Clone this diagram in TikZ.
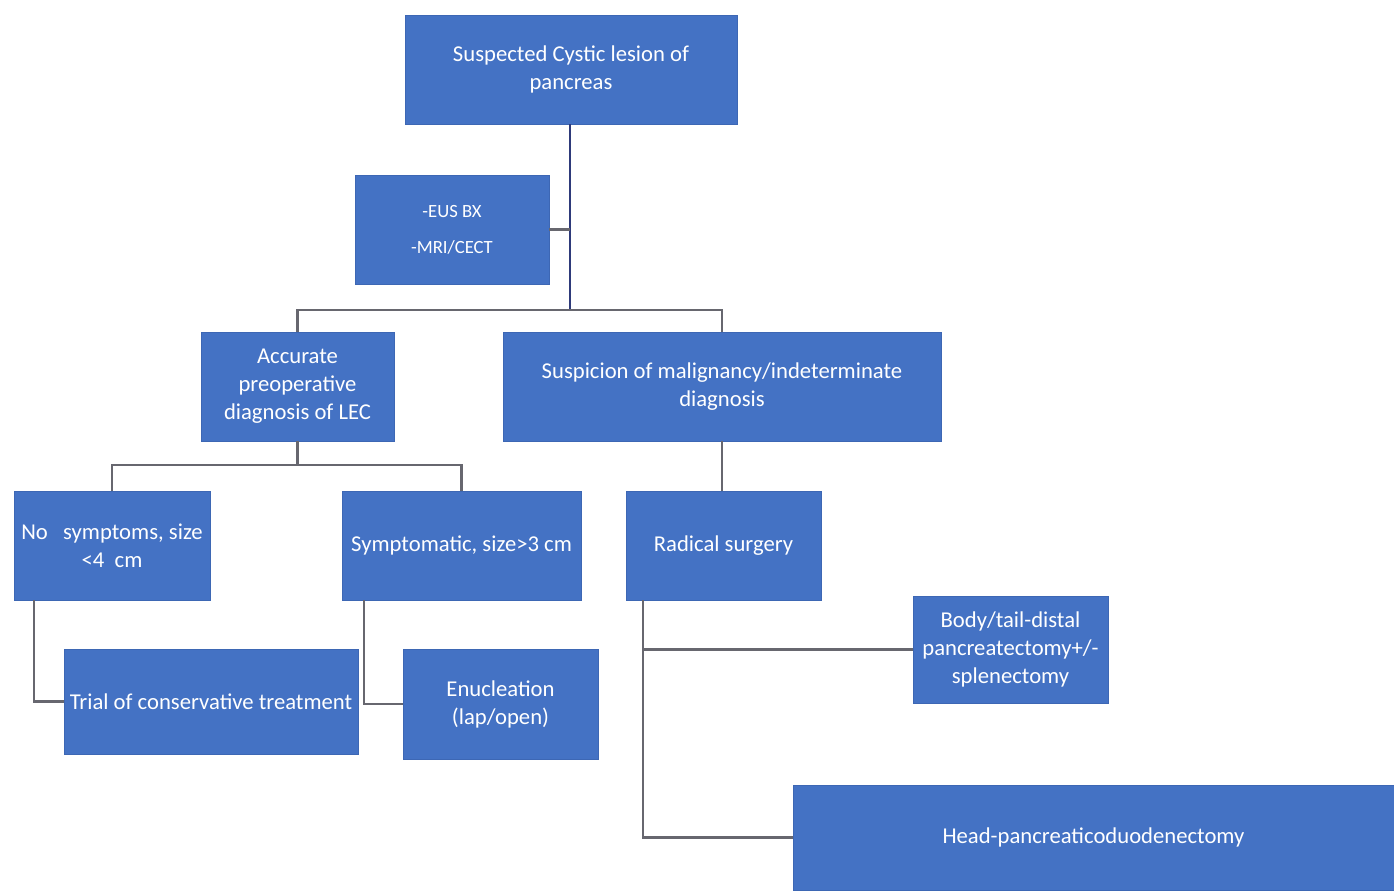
\documentclass[tikz,border=0pt]{standalone}
\usepackage{fontspec}
\setmainfont{Carlito}
\definecolor{boxblue}{HTML}{4472C4}
\definecolor{boxedge}{HTML}{3D67B4}
\definecolor{trunkline}{HTML}{2E3A7A}
\definecolor{linkline}{HTML}{67676F}
\begin{document}
\begin{tikzpicture}[x=0.75pt,y=-0.75pt,
  box/.style={fill=boxblue, draw=boxedge, line width=0.6pt, text=white,
    align=center, inner sep=0pt, minimum height=81.75pt,
    font=\fontsize{17}{21}\selectfont},
  link/.style={draw=linkline, line width=1.6pt},
  trunk/.style={draw=trunkline, line width=1.8pt}]
\useasboundingbox (0,0) rectangle (1394,890);

% decision boxes
\node[box, minimum width=249pt] (top) at (571,69.5) {Suspected Cystic lesion of\\pancreas};
\node[box, minimum width=145.5pt, font=\fontsize{14}{27}\selectfont] (eus) at (452,229.5) {-EUS BX\\-MRI/CECT};
\node[box, minimum width=144.75pt] (acc) at (297.5,386.5) {Accurate\\preoperative\\diagnosis of LEC};
\node[box, minimum width=328.5pt] (sus) at (722,386.5) {Suspicion of malignancy/indeterminate\\diagnosis};
\node[box, minimum width=147pt] (nosym) at (112,545.5) {No\ \ \ symptoms, size\\<4\ \ cm};
\node[box, minimum width=179.25pt] (symp) at (461.5,545.5) {Symptomatic, size>3 cm};
\node[box, minimum width=146.25pt] (rad) at (723.5,545.5) {Radical surgery};
\node[box, minimum width=220.5pt, minimum height=78.75pt] (trial) at (211,701.5) {Trial of conservative treatment};
\node[box, minimum width=146.25pt, minimum height=82.5pt] (enuc) at (500.5,704) {Enucleation\\(lap/open)};
\node[box, minimum width=146.25pt, minimum height=80.25pt] (body) at (1010.5,649.5) {Body/tail-distal\\pancreatectomy+/-\\splenectomy};
\node[box, minimum width=450.75pt, minimum height=78.75pt] (head) at (1093.5,837.5) {Head-pancreaticoduodenectomy};

% junction points
\coordinate (split1) at (570,310);
\coordinate (split2) at (297.5,465);

% connectors
\draw[trunk] (top.south -| split1) -- (split1);
\draw[link] (eus.east) -- (eus.east -| split1);
\draw[link] (acc.north) -- (acc.north |- split1) -- (sus.north |- split1) -- (sus.north);
\draw[link] (acc.south) -- (split2);
\draw[link] (nosym.north) -- (nosym.north |- split2) -- (symp.north |- split2) -- (symp.north);
\draw[link] (sus.south) -- (sus.south |- rad.north);
\draw[link] ([xshift=15pt]nosym.south west) |- (trial.west);
\draw[link] ([xshift=16.5pt]symp.south west) |- (enuc.west);
\draw[link] ([xshift=12.75pt]rad.south west) |- (head.west);
\draw[link] ([xshift=12.75pt]rad.south west |- body.west) -- (body.west);
\end{tikzpicture}
\end{document}
